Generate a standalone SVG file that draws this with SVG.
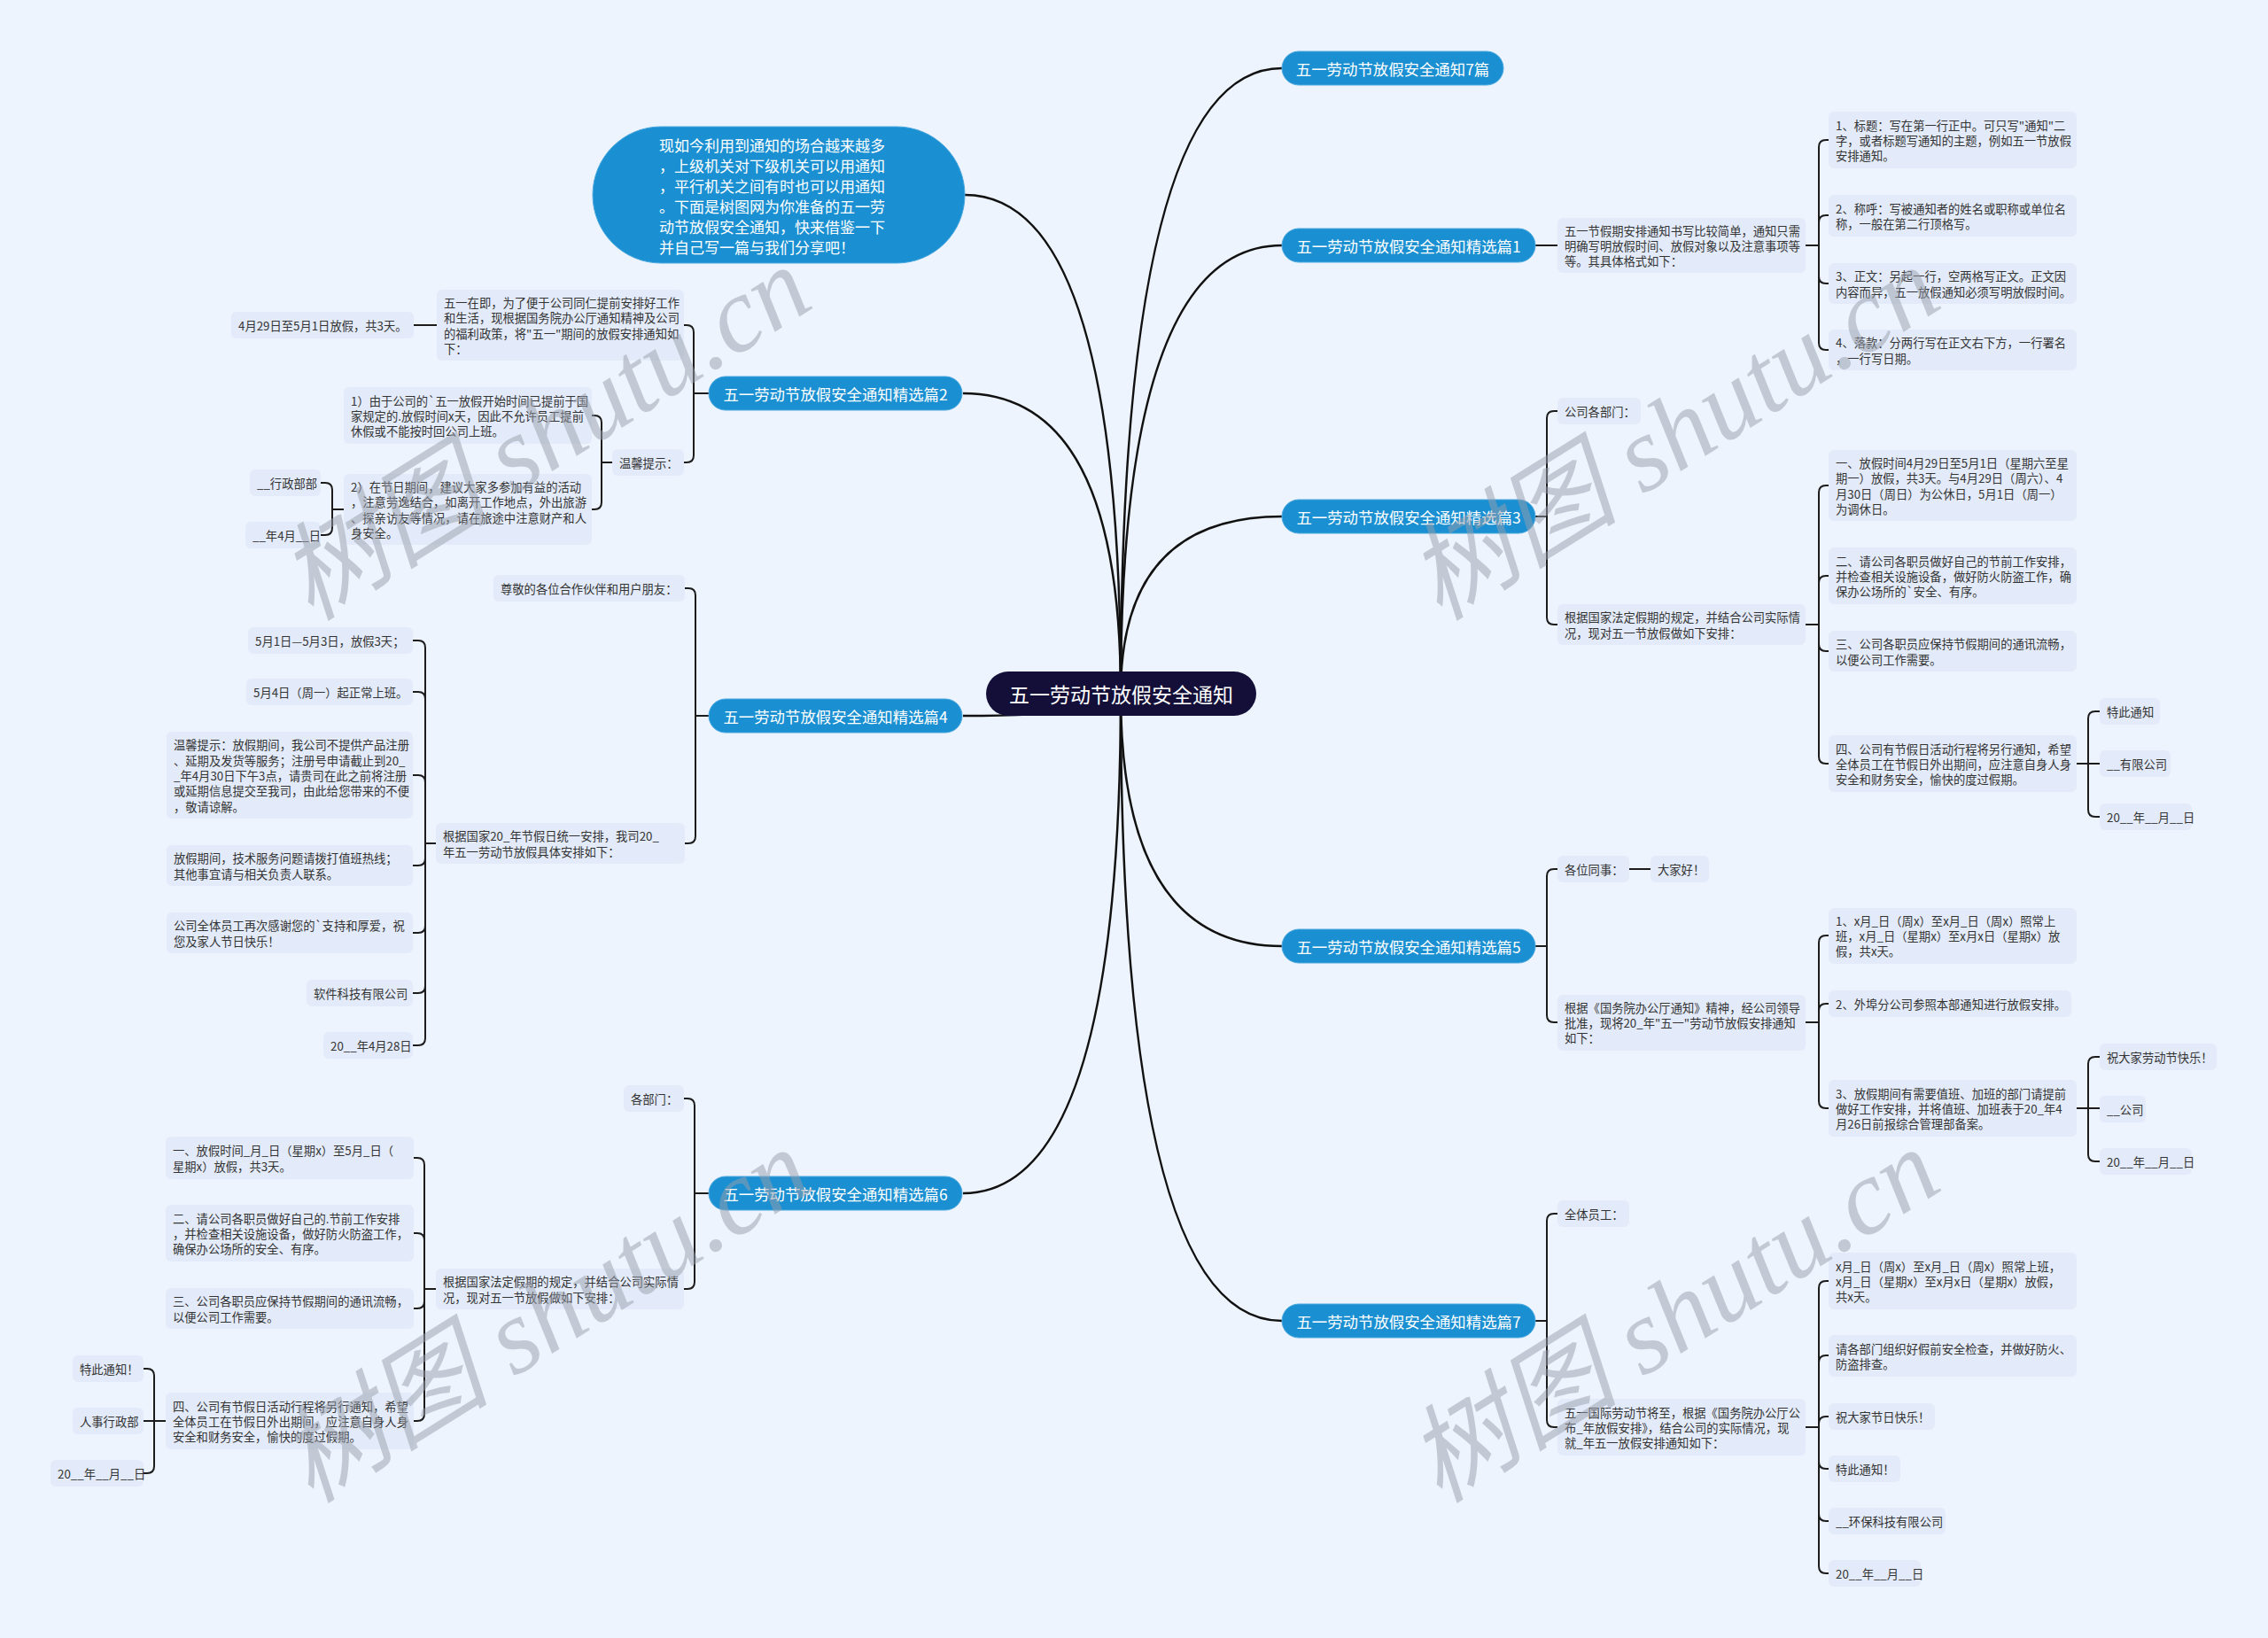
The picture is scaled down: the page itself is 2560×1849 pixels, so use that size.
<svg xmlns="http://www.w3.org/2000/svg" width="2560" height="1849" viewBox="0 0 2560 1849">
<style>
text{font-family:"Noto Sans CJK SC","Noto Sans",sans-serif;dominant-baseline:central}
.t{font-size:13.3px;fill:#333}
.pill{fill:#1a8fd1;stroke:#4aa8e0;stroke-width:1}
.pt{font-size:17.4px;fill:#fff;text-anchor:middle}
.box{fill:#e3ebfa}
.ln{fill:none;stroke:#1c1c1c;stroke-width:2}
.mn{fill:none;stroke:#111;stroke-width:2.5}
.wm{font-family:"Liberation Serif","Noto Sans CJK SC",serif;font-style:italic;font-size:120px;fill:#9aa0ac;opacity:.5;dominant-baseline:auto}
</style>
<rect x="0" y="0" width="2560" height="1849" fill="#eef4fd"/>
<g id="connectors">
<path class="mn" d="M1265 783Q1265 220 1089 220"/>
<path class="mn" d="M1265 783Q1265 77 1447 77"/>
<path class="mn" d="M1265 783Q1265 277 1447 277"/>
<path class="mn" d="M1265 783Q1265 444 1087 444"/>
<path class="mn" d="M1265 783Q1265 583 1447 583"/>
<path class="mn" d="M1265 783Q1265 808 1087 808"/>
<path class="mn" d="M1265 783Q1265 1068 1447 1068"/>
<path class="mn" d="M1265 783Q1265 1347 1087 1347"/>
<path class="mn" d="M1265 783Q1265 1491 1447 1491"/>
<path class="ln" d="M1733 277H1758"/>
<path class="ln" d="M2038 277H2053V166Q2053 158 2061 158H2064"/>
<path class="ln" d="M2038 277H2053V251Q2053 243 2061 243H2064"/>
<path class="ln" d="M2038 277H2053V312Q2053 320 2061 320H2064"/>
<path class="ln" d="M2038 277H2053V387Q2053 395 2061 395H2064"/>
<path class="ln" d="M1733 583H1746V472Q1746 464 1754 464H1758"/>
<path class="ln" d="M1733 583H1746V697Q1746 705 1754 705H1758"/>
<path class="ln" d="M2038 705H2053V556Q2053 548 2061 548H2064"/>
<path class="ln" d="M2038 705H2053V658Q2053 650 2061 650H2064"/>
<path class="ln" d="M2038 705H2053V727Q2053 735 2061 735H2064"/>
<path class="ln" d="M2038 705H2053V854Q2053 862 2061 862H2064"/>
<path class="ln" d="M2344 862H2357V811Q2357 803 2365 803H2370"/>
<path class="ln" d="M2344 862H2370"/>
<path class="ln" d="M2344 862H2357V914Q2357 922 2365 922H2370"/>
<path class="ln" d="M1733 1068H1746V989Q1746 981 1754 981H1758"/>
<path class="ln" d="M1733 1068H1746V1146Q1746 1154 1754 1154H1758"/>
<path class="ln" d="M1839 981H1863"/>
<path class="ln" d="M2038 1154H2053V1064Q2053 1056 2061 1056H2064"/>
<path class="ln" d="M2038 1154H2053V1141Q2053 1133 2061 1133H2064"/>
<path class="ln" d="M2038 1154H2053V1243Q2053 1251 2061 1251H2064"/>
<path class="ln" d="M2344 1251H2357V1201Q2357 1193 2365 1193H2370"/>
<path class="ln" d="M2344 1251H2370"/>
<path class="ln" d="M2344 1251H2357V1303Q2357 1311 2365 1311H2370"/>
<path class="ln" d="M1733 1491H1746V1378Q1746 1370 1754 1370H1758"/>
<path class="ln" d="M1733 1491H1746V1603Q1746 1611 1754 1611H1758"/>
<path class="ln" d="M2038 1611H2053V1454Q2053 1446 2061 1446H2064"/>
<path class="ln" d="M2038 1611H2053V1538Q2053 1530 2061 1530H2064"/>
<path class="ln" d="M2038 1611H2053V1607Q2053 1599 2061 1599H2064"/>
<path class="ln" d="M2038 1611H2053V1650Q2053 1658 2061 1658H2064"/>
<path class="ln" d="M2038 1611H2053V1709Q2053 1717 2061 1717H2064"/>
<path class="ln" d="M2038 1611H2053V1768Q2053 1776 2061 1776H2064"/>
<path class="ln" d="M800 444H783V375Q783 367 775 367H772"/>
<path class="ln" d="M800 444H783V514Q783 522 775 522H772"/>
<path class="ln" d="M493 367H467"/>
<path class="ln" d="M691 522H679V477Q679 469 671 469H668"/>
<path class="ln" d="M691 522H679V567Q679 575 671 575H668"/>
<path class="ln" d="M388 575H375V553Q375 545 367 545H362"/>
<path class="ln" d="M388 575H375V596Q375 604 367 604H362"/>
<path class="ln" d="M800 808H785V672Q785 664 777 664H773"/>
<path class="ln" d="M800 808H785V944Q785 952 777 952H773"/>
<path class="ln" d="M492 952H480V731Q480 723 472 723H466"/>
<path class="ln" d="M492 952H480V789Q480 781 472 781H466"/>
<path class="ln" d="M492 952H480V883Q480 875 472 875H466"/>
<path class="ln" d="M492 952H480V969Q480 977 472 977H466"/>
<path class="ln" d="M492 952H480V1045Q480 1053 472 1053H466"/>
<path class="ln" d="M492 952H480V1113Q480 1121 472 1121H466"/>
<path class="ln" d="M492 952H480V1172Q480 1180 472 1180H466"/>
<path class="ln" d="M800 1347H784V1248Q784 1240 776 1240H772"/>
<path class="ln" d="M800 1347H784V1447Q784 1455 776 1455H772"/>
<path class="ln" d="M492 1455H479V1315Q479 1307 471 1307H467"/>
<path class="ln" d="M492 1455H479V1400Q479 1392 471 1392H467"/>
<path class="ln" d="M492 1455H479V1469Q479 1477 471 1477H467"/>
<path class="ln" d="M492 1455H479V1596Q479 1604 471 1604H467"/>
<path class="ln" d="M187 1604H174V1553Q174 1545 166 1545H162"/>
<path class="ln" d="M187 1604H162"/>
<path class="ln" d="M187 1604H174V1655Q174 1663 166 1663H162"/>
</g>

<g id="root"><rect x="1113" y="758" width="305" height="50" rx="25" fill="#130f38"/><text x="1265.5" y="783" font-size="23" fill="#fff" text-anchor="middle">五一劳动节放假安全通知</text></g>

<g id="intro"><rect class="pill" x="669" y="143" width="420" height="154" rx="77"/>
<text font-size="17" fill="#fff"><tspan x="744" y="163">现如今利用到通知的场合越来越多</tspan><tspan x="744" y="186">，上级机关对下级机关可以用通知</tspan><tspan x="744" y="209">，平行机关之间有时也可以用通知</tspan><tspan x="744" y="232">。下面是树图网为你准备的五一劳</tspan><tspan x="744" y="255">动节放假安全通知，快来借鉴一下</tspan><tspan x="744" y="278">并自己写一篇与我们分享吧！</tspan></text></g>

<g id="p7"><rect class="pill" x="1447" y="58" width="250" height="38" rx="19"/><text class="pt" x="1572" y="77">五一劳动节放假安全通知7篇</text></g>
<g id="p1"><rect class="pill" x="1447" y="258" width="286" height="38" rx="19"/><text class="pt" x="1590" y="277">五一劳动节放假安全通知精选篇1</text></g>
<g id="p3"><rect class="pill" x="1447" y="564" width="286" height="38" rx="19"/><text class="pt" x="1590" y="583">五一劳动节放假安全通知精选篇3</text></g>
<g id="p5"><rect class="pill" x="1447" y="1049" width="286" height="38" rx="19"/><text class="pt" x="1590" y="1068">五一劳动节放假安全通知精选篇5</text></g>
<g id="p7b"><rect class="pill" x="1447" y="1472" width="286" height="38" rx="19"/><text class="pt" x="1590" y="1491">五一劳动节放假安全通知精选篇7</text></g>
<g id="p2"><rect class="pill" x="800" y="425" width="286" height="38" rx="19"/><text class="pt" x="943" y="444">五一劳动节放假安全通知精选篇2</text></g>
<g id="p4"><rect class="pill" x="800" y="789" width="286" height="38" rx="19"/><text class="pt" x="943" y="808">五一劳动节放假安全通知精选篇4</text></g>
<g id="p6"><rect class="pill" x="800" y="1328" width="286" height="38" rx="19"/><text class="pt" x="943" y="1347">五一劳动节放假安全通知精选篇6</text></g>

<g id="n1a"><rect class="box" x="1758" y="246" width="280" height="62" rx="6"/><text class="t"><tspan x="1766" y="259.7">五一节假期安排通知书写比较简单，通知只需</tspan><tspan x="1766" y="277">明确写明放假时间、放假对象以及注意事项等</tspan><tspan x="1766" y="294.3">等。其具体格式如下：</tspan></text></g>
<g id="n1b"><rect class="box" x="2064" y="126" width="280" height="64" rx="6"/><text class="t"><tspan x="2072" y="140.7">1、标题：写在第一行正中。可只写"通知"二</tspan><tspan x="2072" y="158">字，或者标题写通知的主题，例如五一节放假</tspan><tspan x="2072" y="175.3">安排通知。</tspan></text></g>
<g id="n1c"><rect class="box" x="2064" y="220" width="280" height="47" rx="6"/><text class="t"><tspan x="2072" y="234.8">2、称呼：写被通知者的姓名或职称或单位名</tspan><tspan x="2072" y="252.2">称，一般在第二行顶格写。</tspan></text></g>
<g id="n1d"><rect class="box" x="2064" y="297" width="280" height="46" rx="6"/><text class="t"><tspan x="2072" y="311.3">3、正文：另起一行，空两格写正文。正文因</tspan><tspan x="2072" y="328.7">内容而异，五一放假通知必须写明放假时间。</tspan></text></g>
<g id="n1e"><rect class="box" x="2064" y="372" width="280" height="46" rx="6"/><text class="t"><tspan x="2072" y="386.3">4、落款：分两行写在正文右下方，一行署名</tspan><tspan x="2072" y="403.7">，一行写日期。</tspan></text></g>

<g id="n3a"><rect class="box" x="1758" y="449" width="94" height="30" rx="6"/><text class="t" x="1766" y="464">公司各部门：</text></g>
<g id="n3b"><rect class="box" x="1758" y="682" width="280" height="46" rx="6"/><text class="t"><tspan x="1766" y="696.3">根据国家法定假期的规定，并结合公司实际情</tspan><tspan x="1766" y="713.7">况，现对五一节放假做如下安排：</tspan></text></g>
<g id="g1"><rect class="box" x="2064" y="508" width="280" height="80" rx="6"/><text class="t"><tspan x="2072" y="522">一、放假时间4月29日至5月1日（星期六至星</tspan><tspan x="2072" y="539.4">期一）放假，共3天。与4月29日（周六）、4</tspan><tspan x="2072" y="556.7">月30日（周日）为公休日，5月1日（周一）</tspan><tspan x="2072" y="574">为调休日。</tspan></text></g>
<g id="g2"><rect class="box" x="2064" y="618" width="280" height="64" rx="6"/><text class="t"><tspan x="2072" y="632.7">二、请公司各职员做好自己的节前工作安排，</tspan><tspan x="2072" y="650">并检查相关设施设备，做好防火防盗工作，确</tspan><tspan x="2072" y="667.3">保办公场所的`安全、有序。</tspan></text></g>
<g id="g3"><rect class="box" x="2064" y="712" width="280" height="46" rx="6"/><text class="t"><tspan x="2072" y="726.3">三、公司各职员应保持节假期间的通讯流畅，</tspan><tspan x="2072" y="743.7">以便公司工作需要。</tspan></text></g>
<g id="g4"><rect class="box" x="2064" y="830" width="280" height="64" rx="6"/><text class="t"><tspan x="2072" y="844.7">四、公司有节假日活动行程将另行通知，希望</tspan><tspan x="2072" y="862">全体员工在节假日外出期间，应注意自身人身</tspan><tspan x="2072" y="879.3">安全和财务安全，愉快的度过假期。</tspan></text></g>
<g id="g4a"><rect class="box" x="2370" y="788" width="68" height="30" rx="6"/><text class="t" x="2378" y="803">特此通知</text></g>
<g id="g4b"><rect class="box" x="2370" y="847" width="80" height="30" rx="6"/><text class="t" x="2378" y="862">__有限公司</text></g>
<g id="g4c"><rect class="box" x="2370" y="907" width="104" height="30" rx="6"/><text class="t" x="2378" y="922">20__年__月__日</text></g>

<g id="n5a"><rect class="box" x="1758" y="966" width="81" height="30" rx="6"/><text class="t" x="1766" y="981">各位同事：</text></g>
<g id="n5a1"><rect class="box" x="1863" y="966" width="66" height="30" rx="6"/><text class="t" x="1871" y="981">大家好！</text></g>
<g id="n5b"><rect class="box" x="1758" y="1123" width="280" height="63" rx="6"/><text class="t"><tspan x="1766" y="1136.7">根据《国务院办公厅通知》精神，经公司领导</tspan><tspan x="1766" y="1154">批准，现将20_年"五一"劳动节放假安排通知</tspan><tspan x="1766" y="1171.3">如下：</tspan></text></g>
<g id="h1"><rect class="box" x="2064" y="1025" width="280" height="63" rx="6"/><text class="t"><tspan x="2072" y="1038.7">1、x月_日（周x）至x月_日（周x）照常上</tspan><tspan x="2072" y="1056">班，x月_日（星期x）至x月x日（星期x）放</tspan><tspan x="2072" y="1073.3">假，共x天。</tspan></text></g>
<g id="h2"><rect class="box" x="2064" y="1118" width="274" height="30" rx="6"/><text class="t" x="2072" y="1133">2、外埠分公司参照本部通知进行放假安排。</text></g>
<g id="h3"><rect class="box" x="2064" y="1219" width="280" height="64" rx="6"/><text class="t"><tspan x="2072" y="1233.7">3、放假期间有需要值班、加班的部门请提前</tspan><tspan x="2072" y="1251">做好工作安排，并将值班、加班表于20_年4</tspan><tspan x="2072" y="1268.3">月26日前报综合管理部备案。</tspan></text></g>
<g id="h3a"><rect class="box" x="2370" y="1178" width="132" height="30" rx="6"/><text class="t" x="2378" y="1193">祝大家劳动节快乐！</text></g>
<g id="h3b"><rect class="box" x="2370" y="1237" width="52" height="30" rx="6"/><text class="t" x="2378" y="1252">__公司</text></g>
<g id="h3c"><rect class="box" x="2370" y="1296" width="104" height="30" rx="6"/><text class="t" x="2378" y="1311">20__年__月__日</text></g>

<g id="n7a"><rect class="box" x="1758" y="1355" width="81" height="30" rx="6"/><text class="t" x="1766" y="1370">全体员工：</text></g>
<g id="n7b"><rect class="box" x="1758" y="1579" width="280" height="64" rx="6"/><text class="t"><tspan x="1766" y="1593.7">五一国际劳动节将至，根据《国务院办公厅公</tspan><tspan x="1766" y="1611">布_年放假安排》，结合公司的实际情况，现</tspan><tspan x="1766" y="1628.3">就_年五一放假安排通知如下：</tspan></text></g>
<g id="k1"><rect class="box" x="2064" y="1414" width="280" height="64" rx="6"/><text class="t"><tspan x="2072" y="1428.7">x月_日（周x）至x月_日（周x）照常上班，</tspan><tspan x="2072" y="1446">x月_日（星期x）至x月x日（星期x）放假，</tspan><tspan x="2072" y="1463.3">共x天。</tspan></text></g>
<g id="k2"><rect class="box" x="2064" y="1507" width="280" height="47" rx="6"/><text class="t"><tspan x="2072" y="1521.8">请各部门组织好假前安全检查，并做好防火、</tspan><tspan x="2072" y="1539.2">防盗排查。</tspan></text></g>
<g id="k3"><rect class="box" x="2064" y="1584" width="120" height="30" rx="6"/><text class="t" x="2072" y="1599">祝大家节日快乐！</text></g>
<g id="k4"><rect class="box" x="2064" y="1643" width="81" height="30" rx="6"/><text class="t" x="2072" y="1658">特此通知！</text></g>
<g id="k5"><rect class="box" x="2064" y="1702" width="132" height="30" rx="6"/><text class="t" x="2072" y="1717">__环保科技有限公司</text></g>
<g id="k6"><rect class="box" x="2064" y="1761" width="104" height="30" rx="6"/><text class="t" x="2072" y="1776">20__年__月__日</text></g>

<g id="n2a"><rect class="box" x="493" y="327" width="279" height="80" rx="6"/><text class="t"><tspan x="501" y="341">五一在即，为了便于公司同仁提前安排好工作</tspan><tspan x="501" y="358.4">和生活，现根据国务院办公厅通知精神及公司</tspan><tspan x="501" y="375.7">的福利政策，将"五一"期间的放假安排通知如</tspan><tspan x="501" y="393">下：</tspan></text></g>
<g id="n2a1"><rect class="box" x="261" y="352" width="206" height="30" rx="6"/><text class="t" x="269" y="367">4月29日至5月1日放假，共3天。</text></g>
<g id="n2b"><rect class="box" x="691" y="507" width="81" height="30" rx="6"/><text class="t" x="699" y="522">温馨提示：</text></g>
<g id="c1"><rect class="box" x="388" y="437" width="280" height="64" rx="6"/><text class="t"><tspan x="396" y="451.7">1）由于公司的`五一放假开始时间已提前于国</tspan><tspan x="396" y="469">家规定的.放假时间x天，因此不允许员工提前</tspan><tspan x="396" y="486.3">休假或不能按时回公司上班。</tspan></text></g>
<g id="c2"><rect class="box" x="388" y="535" width="280" height="80" rx="6"/><text class="t"><tspan x="396" y="549">2）在节日期间，建议大家多参加有益的活动</tspan><tspan x="396" y="566.4">，注意劳逸结合，如离开工作地点，外出旅游</tspan><tspan x="396" y="583.7">、探亲访友等情况，请在旅途中注意财产和人</tspan><tspan x="396" y="601">身安全。</tspan></text></g>
<g id="c2a"><rect class="box" x="282" y="530" width="80" height="30" rx="6"/><text class="t" x="290" y="545">__行政部部</text></g>
<g id="c2b"><rect class="box" x="277" y="589" width="85" height="30" rx="6"/><text class="t" x="285" y="604">__年4月__日</text></g>

<g id="n4a"><rect class="box" x="557" y="649" width="216" height="30" rx="6"/><text class="t" x="565" y="664">尊敬的各位合作伙伴和用户朋友：</text></g>
<g id="n4b"><rect class="box" x="492" y="929" width="281" height="46" rx="6"/><text class="t"><tspan x="500" y="943.3">根据国家20_年节假日统一安排，我司20_</tspan><tspan x="500" y="960.7">年五一劳动节放假具体安排如下：</tspan></text></g>
<g id="d1"><rect class="box" x="280" y="708" width="186" height="30" rx="6"/><text class="t" x="288" y="723">5月1日—5月3日，放假3天；</text></g>
<g id="d2"><rect class="box" x="278" y="766" width="188" height="30" rx="6"/><text class="t" x="286" y="781">5月4日（周一）起正常上班。</text></g>
<g id="d3"><rect class="box" x="188" y="826" width="278" height="98" rx="6"/><text class="t"><tspan x="196" y="840.4">温馨提示：放假期间，我公司不提供产品注册</tspan><tspan x="196" y="857.7">、延期及发货等服务；注册号申请截止到20_</tspan><tspan x="196" y="875">_年4月30日下午3点，请贵司在此之前将注册</tspan><tspan x="196" y="892.3">或延期信息提交至我司，由此给您带来的不便</tspan><tspan x="196" y="909.6">，敬请谅解。</tspan></text></g>
<g id="d4"><rect class="box" x="188" y="954" width="278" height="46" rx="6"/><text class="t"><tspan x="196" y="968.3">放假期间，技术服务问题请拨打值班热线；</tspan><tspan x="196" y="985.7">其他事宜请与相关负责人联系。</tspan></text></g>
<g id="d5"><rect class="box" x="188" y="1030" width="278" height="46" rx="6"/><text class="t"><tspan x="196" y="1044.3">公司全体员工再次感谢您的`支持和厚爱，祝</tspan><tspan x="196" y="1061.7">您及家人节日快乐！</tspan></text></g>
<g id="d6"><rect class="box" x="346" y="1106" width="120" height="30" rx="6"/><text class="t" x="354" y="1121">软件科技有限公司</text></g>
<g id="d7"><rect class="box" x="365" y="1165" width="101" height="30" rx="6"/><text class="t" x="373" y="1180">20__年4月28日</text></g>

<g id="n6a"><rect class="box" x="704" y="1225" width="68" height="30" rx="6"/><text class="t" x="712" y="1240">各部门：</text></g>
<g id="n6b"><rect class="box" x="492" y="1432" width="280" height="46" rx="6"/><text class="t"><tspan x="500" y="1446.3">根据国家法定假期的规定，并结合公司实际情</tspan><tspan x="500" y="1463.7">况，现对五一节放假做如下安排：</tspan></text></g>
<g id="m1"><rect class="box" x="187" y="1283" width="280" height="48" rx="6"/><text class="t"><tspan x="195" y="1298.3">一、放假时间_月_日（星期x）至5月_日（</tspan><tspan x="195" y="1315.7">星期x）放假，共3天。</tspan></text></g>
<g id="m2"><rect class="box" x="187" y="1360" width="280" height="64" rx="6"/><text class="t"><tspan x="195" y="1374.7">二、请公司各职员做好自己的.节前工作安排</tspan><tspan x="195" y="1392">，并检查相关设施设备，做好防火防盗工作，</tspan><tspan x="195" y="1409.3">确保办公场所的安全、有序。</tspan></text></g>
<g id="m3"><rect class="box" x="187" y="1454" width="280" height="46" rx="6"/><text class="t"><tspan x="195" y="1468.3">三、公司各职员应保持节假期间的通讯流畅，</tspan><tspan x="195" y="1485.7">以便公司工作需要。</tspan></text></g>
<g id="m4"><rect class="box" x="187" y="1572" width="280" height="64" rx="6"/><text class="t"><tspan x="195" y="1586.7">四、公司有节假日活动行程将另行通知，希望</tspan><tspan x="195" y="1604">全体员工在节假日外出期间，应注意自身人身</tspan><tspan x="195" y="1621.3">安全和财务安全，愉快的度过假期。</tspan></text></g>
<g id="m4a"><rect class="box" x="82" y="1530" width="80" height="30" rx="6"/><text class="t" x="90" y="1545">特此通知！</text></g>
<g id="m4b"><rect class="box" x="82" y="1589" width="80" height="30" rx="6"/><text class="t" x="90" y="1604">人事行政部</text></g>
<g id="m4c"><rect class="box" x="57" y="1648" width="105" height="30" rx="6"/><text class="t" x="65" y="1663">20__年__月__日</text></g>

<g id="watermarks">
<text class="wm" x="351" y="702" transform="rotate(-32 351 702)">树图 shutu.cn</text>
<text class="wm" x="1625" y="702" transform="rotate(-32 1625 702)">树图 shutu.cn</text>
<text class="wm" x="351" y="1698" transform="rotate(-32 351 1698)">树图 shutu.cn</text>
<text class="wm" x="1625" y="1698" transform="rotate(-32 1625 1698)">树图 shutu.cn</text>
</g>
</svg>
